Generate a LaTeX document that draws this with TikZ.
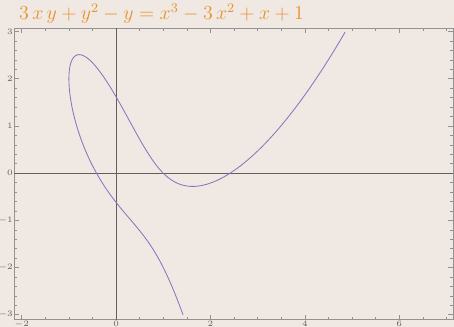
\documentclass[tikz,border=0pt]{standalone}
\usepackage{amsmath}
\usepackage{tikz}
\definecolor{PlotBg}{RGB}{240,232,227}
\definecolor{PlotFrame}{RGB}{150,145,145}
\definecolor{PlotAxis}{RGB}{100,95,95}
\definecolor{PlotCurve}{RGB}{128,120,190}
\definecolor{PlotOrange}{RGB}{232,146,44}

\begin{document}
\begin{tikzpicture}[x=1cm, y=1cm,
    frm/.style={draw=PlotFrame, line width=0.5pt},
    tck/.style={PlotFrame, line width=0.4pt},
    tlab/.style={font=\fontsize{2.8}{3}\selectfont, text=PlotAxis, inner sep=0pt},
    declare function={cx(\t)=-1+\t*\t; cy(\t)=(1-3*cx(\t)+\t*sqrt(4*cx(\t)*cx(\t)-7*cx(\t)+5))/2;}]
    \useasboundingbox[fill=PlotBg] (-2.46,-3.25) rectangle (7.16,3.67);
    \node[anchor=base west, inner sep=0pt, text=PlotOrange, font=\large] (title) at (-2.06,3.25)
      {$3\,x\,y+y^2-y=x^3-3\,x^2+x+1$};
    % frame and ticks
    \draw[frm] (-2.16,-3.1) rectangle (7.14,3.07);
    \foreach \i in {-4,...,14} {
      \draw[tck] (\i/2,-3.1)--++(0,0.06);
      \draw[tck] (\i/2,3.07)--++(0,-0.06);
    }
    \foreach \t in {-2,0,2,4,6} {
      \draw[tck] (\t,-3.1)--++(0,0.1);
      \draw[tck] (\t,3.07)--++(0,-0.1);
      \node[tlab, below] (xl\t) at (\t,-3.13) {$\t$};
    }
    \foreach \i in {-15,...,15} {
      \draw[tck] (-2.16,\i/5)--++(0.06,0);
      \draw[tck] (7.14,\i/5)--++(-0.06,0);
    }
    \foreach \t in {-3,...,3} {
      \draw[tck] (-2.16,\t)--++(0.1,0);
      \draw[tck] (7.14,\t)--++(-0.1,0);
      \node[tlab, left] (yl\t) at (-2.18,\t) {$\t$};
    }
    % axes
    \draw[PlotAxis, line width=0.5pt] (0,-3.1)--(0,3.07);
    \draw[PlotAxis, line width=0.5pt] (-2.16,0)--(7.14,0);
    % the curve
    \draw[PlotCurve, line width=0.5pt] plot[domain=-1.555:2.4204, samples=300, smooth] ({cx(\x)},{cy(\x)});
  \end{tikzpicture}
\end{document}
